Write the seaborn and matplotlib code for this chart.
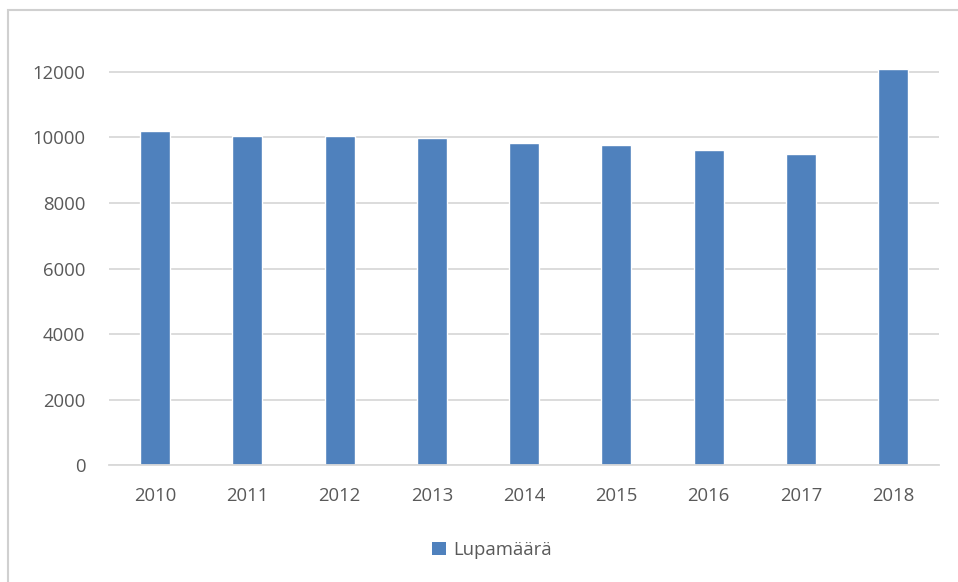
import matplotlib
matplotlib.use("Agg")
import matplotlib.pyplot as plt
import seaborn as sns
import pandas as pd
from matplotlib.patches import Rectangle, Patch

years = ["2010", "2011", "2012", "2013", "2014", "2015", "2016", "2017", "2018"]
lupamaara = [10180, 10030, 10030, 9990, 9835, 9765, 9600, 9480, 12075]
yticks = [0, 2000, 4000, 6000, 8000, 10000, 12000]
series_name = "Lupamäärä"

df = pd.DataFrame({"Vuosi": years, series_name: lupamaara})

sns.set_theme(style="white")
plt.rcParams["font.family"] = ["Open Sans", "DejaVu Sans"]

bar_color = "#4f81bd"
grid_color = "#d9d9d9"
text_color = "#595959"

fig = plt.figure(figsize=(9.58, 5.82), dpi=100)
ax = fig.add_axes([0.1137, 0.2005, 0.8666, 0.7326])

sns.barplot(data=df, x="Vuosi", y=series_name, color=bar_color, width=0.325,
            saturation=1, ax=ax)

ax.set_ylim(0, 13000)
ax.set_xlim(-0.5, len(years) - 0.5)
ax.set_yticks(yticks)
ax.set_yticklabels([str(v) for v in yticks])
ax.set_xlabel("")
ax.set_ylabel("")
ax.set_axisbelow(True)
ax.yaxis.grid(True, color=grid_color, linewidth=1.3)
ax.xaxis.grid(False)
for s in ["top", "right", "left"]:
    ax.spines[s].set_visible(False)
ax.spines["bottom"].set_color(grid_color)
ax.spines["bottom"].set_linewidth(1.3)
ax.tick_params(axis="both", length=0, colors=text_color, labelsize=13.3)
ax.tick_params(axis="y", pad=17)
ax.tick_params(axis="x", pad=15.5)

handles = [Patch(facecolor=bar_color, edgecolor="none", label=series_name)]
fig.legend(handles=handles, loc="center", bbox_to_anchor=(0.514, 0.055),
           frameon=False, fontsize=13.3, handlelength=0.75, handleheight=0.75,
           handletextpad=0.4, labelcolor=text_color)

# outer chart frame (clipped on right and bottom)
fig.patches.append(Rectangle((8 / 958, -0.05), 1.2, (582 - 10) / 582 + 0.05,
                             transform=fig.transFigure, fill=False,
                             edgecolor="#d0d0d0", linewidth=1.5))

fig.savefig("out.png", dpi=100)
